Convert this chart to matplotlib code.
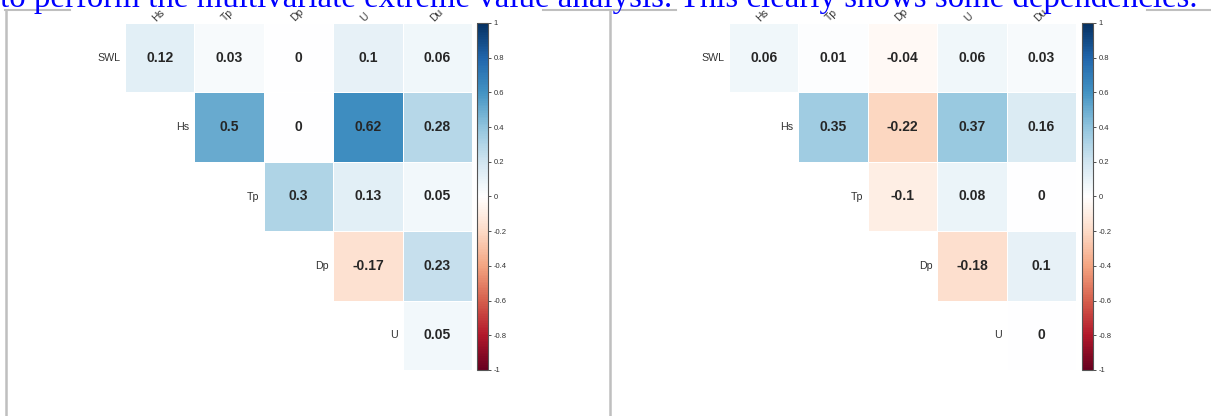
import numpy as np
import matplotlib
matplotlib.use("Agg")
import matplotlib.pyplot as plt
from matplotlib.colors import LinearSegmentedColormap
from matplotlib.lines import Line2D

plt.rcParams["font.family"] = ["Liberation Sans", "DejaVu Sans"]

W, H = 1211, 416

row_labels = ["SWL", "Hs", "Tp", "Dp", "U"]
col_labels = ["Hs", "Tp", "Dp", "U", "Du"]

# upper triangle, row by row (row i starts at column i)
left_vals = [
    [0.12, 0.03, 0, 0.1, 0.06],
    [0.5, 0, 0.62, 0.28],
    [0.3, 0.13, 0.05],
    [-0.17, 0.23],
    [0.05],
]
right_vals = [
    [0.06, 0.01, -0.04, 0.06, 0.03],
    [0.35, -0.22, 0.37, 0.16],
    [-0.1, 0.08, 0],
    [-0.18, 0.1],
    [0],
]

caption = "to perform the multivariate extreme value analysis. This clearly shows some dependencies."

# corrplot's RdBu ramp (white centre)
cmap = LinearSegmentedColormap.from_list("corr", [
    "#67001F", "#B2182B", "#D6604D", "#F4A582", "#FDDBC7", "#FFFFFF",
    "#D1E5F0", "#92C5DE", "#4393C3", "#2166AC", "#053061"], N=200)


def px_axes(fig, x0, y0, x1, y1):
    return fig.add_axes([x0 / W, 1 - y1 / H, (x1 - x0) / W, (y1 - y0) / H])


def fmt(v):
    return f"{v:g}"


def corr_panel(fig, vals, x0, cb_x0):
    n = len(row_labels)
    mat = np.full((n, n), np.nan)
    for i, row in enumerate(vals):
        for k, v in enumerate(row):
            mat[i, i + k] = v
    ax = px_axes(fig, x0, 23, x0 + 347, 370)
    m = ax.pcolormesh(np.ma.masked_invalid(mat), cmap=cmap, vmin=-1, vmax=1,
                      edgecolors="white", linewidth=0.6)
    ax.set_xlim(0, n)
    ax.set_ylim(n, 0)
    ax.axis("off")
    for i in range(n):
        for j in range(i, n):
            ax.text(j + 0.5, i + 0.5, fmt(mat[i, j]), ha="center", va="center",
                    fontsize=10, fontweight="bold", color="#262626")
        ax.text(i - 0.07, i + 0.5, row_labels[i], ha="right", va="center",
                fontsize=7.7, color="#333333", clip_on=False)
    for j, lab in enumerate(col_labels):
        ax.text(j + 0.47, 0.0, lab, ha="left", va="bottom", rotation=45,
                rotation_mode="anchor", fontsize=7.5, color="#333333", clip_on=False)

    cax = px_axes(fig, cb_x0, 23, cb_x0 + 11, 370)
    cb = fig.colorbar(m, cax=cax, ticks=np.linspace(-1, 1, 11))
    cb.ax.set_yticklabels([fmt(round(t, 1)) for t in np.linspace(-1, 1, 11)])
    cb.ax.tick_params(labelsize=5.5, length=2, width=0.6, pad=2, colors="#333333")
    cb.outline.set_edgecolor("#555555")
    cb.outline.set_linewidth(0.8)


fig = plt.figure(figsize=(W / 100, H / 100), dpi=100)

# document frame around the two figures
gray = "#BFBFBF"
for xa, xb in [(5, 70), (543, 676), (1147, W)]:
    fig.add_artist(Line2D([xa / W, xb / W], [1 - 10 / H] * 2, color=gray, lw=1.5))
for xv in [6, 610]:
    fig.add_artist(Line2D([xv / W] * 2, [0, 1 - 10 / H], color=gray, lw=1.8))

corr_panel(fig, left_vals, 125, 477)
corr_panel(fig, right_vals, 729, 1082)

# body text of the page, cut off at the top like in the screenshot
fig.text(0.0, 1 - 7 / H, caption, color="#0000FF", fontsize=23.7,
         family="Liberation Serif", ha="left", va="baseline")

fig.savefig("out.png", dpi=100)
